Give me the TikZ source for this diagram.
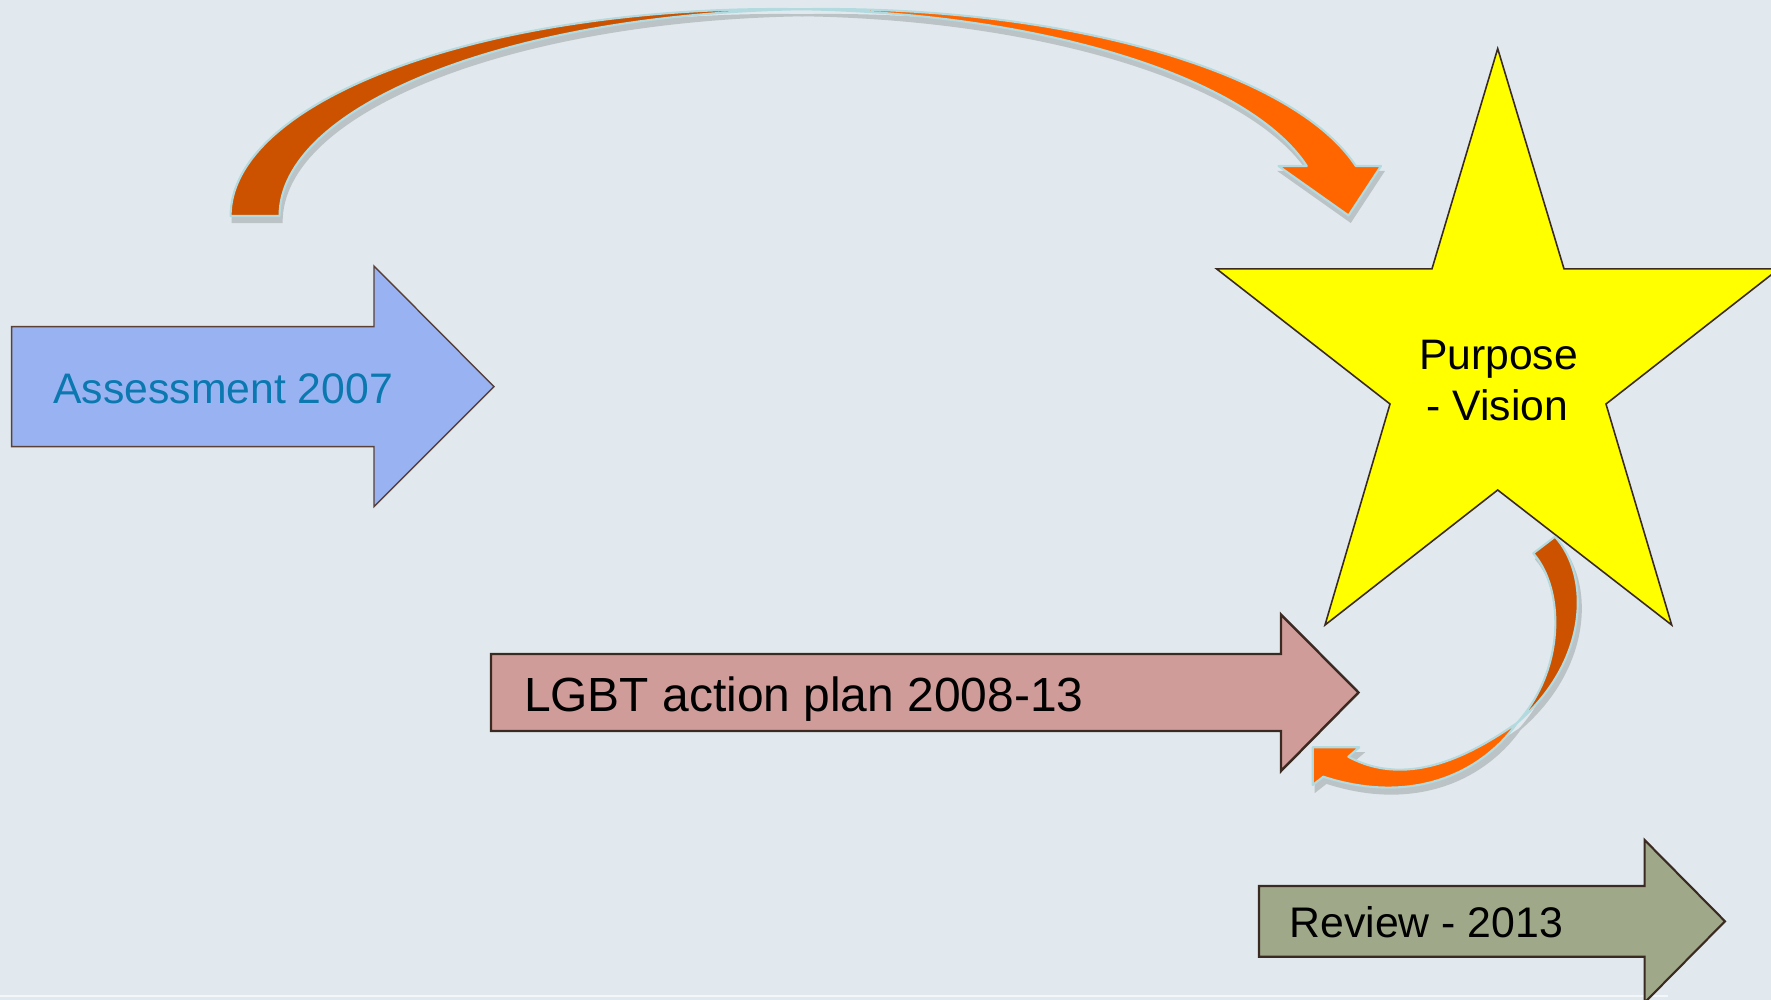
\documentclass[tikz,border=0pt]{standalone}
\usepackage{fontspec}
\setmainfont{Liberation Sans}
\definecolor{bg}{HTML}{E1E9EE}
\definecolor{darkor}{HTML}{CC5200}
\definecolor{brightor}{HTML}{FF6600}
\definecolor{glow}{HTML}{B2DADF}
\definecolor{shade}{HTML}{BCC3C7}
\definecolor{edgebrown}{HTML}{3B2A22}
\definecolor{assessfill}{HTML}{99B3F2}
\definecolor{assessedge}{HTML}{5A4035}
\definecolor{assesstext}{HTML}{0B78B0}
\definecolor{lgbtfill}{HTML}{D09C9A}
\definecolor{reviewfill}{HTML}{9FA888}
\definecolor{starfill}{HTML}{FFFF00}
\definecolor{rulecol}{HTML}{F3F7F9}
\tikzset{
  shapeedge/.style={draw=edgebrown, line join=miter},
  bandpart/.style={draw=glow, line width=0.6pt, line join=round},
  shadowpart/.style={fill=shade, draw=shade, line width=0.6pt},
  lbl/.style={inner sep=0pt, outer sep=0pt},
}
\newcommand\myArcDark{(230.6,216) arc[start angle=180,end angle=272.57,x radius=546.2,y radius=207]
   arc[start angle=267.43,end angle=180,x radius=546.2,y radius=207] -- cycle}
\newcommand\myArcBright{(801.3,9.2) arc[start angle=267.43,end angle=346.02,x radius=546.2,y radius=207]
   -- (1381,166) -- (1348.5,215.5) -- (1278.5,166) -- (1306.8,166)
   arc[start angle=346.02,end angle=272.57,x radius=546.2,y radius=207] -- cycle}
\newcommand\myLoopDark{(1533.3,553.3) -- (1555,536.7) .. controls (1590,575) and (1590,660) .. (1517,723)
   .. controls (1565,670) and (1565,590) .. (1533.3,553.3) -- cycle}
\newcommand\myLoopBright{(1517,723) .. controls (1475,752) and (1410,790) .. (1348.3,756.7)
   -- (1359.3,747.3) -- (1312.7,747.3) -- (1312.7,785) -- (1323.3,776.7)
   .. controls (1410,805) and (1480,775) .. (1517,723) -- cycle}
\begin{document}
\begin{tikzpicture}[x=0.01cm,y=-0.01cm]
\useasboundingbox (0,0) rectangle (1771,1000);
\clip (0,0) rectangle (1771,1000);
\fill[bg] (0,0) rectangle (1771,1000);

% Assessment arrow
\path[shapeedge, fill=assessfill, draw=assessedge, line width=0.4pt]
  (11.7,326.7) -- (374,326.7) -- (374,266) -- (494,386.7) -- (374,506.7) -- (374,446.7) -- (11.7,446.7) -- cycle;
\node[lbl, anchor=base west, text=assesstext, font=\fontsize{12.15}{14}\selectfont] (assess) at (53.3,403) {Assessment 2007};

% top curved arrow
\begin{scope}[shift={(2,6)}]
  \path[shadowpart] \myArcDark;
  \path[shadowpart] \myArcBright;
\end{scope}
\path[bandpart, fill=darkor] \myArcDark;
\path[bandpart, fill=brightor] \myArcBright;

% star
\path[shapeedge, fill=starfill, line width=0.45pt]
  (1497.7,48.6) -- (1564,268.8) -- (1778.9,268.8) -- (1606,404) -- (1671.7,625)
  -- (1497.7,490) -- (1325,625) -- (1390,404) -- (1216.5,268.8) -- (1432,268.8) -- cycle;
\node[lbl, anchor=base, font=\fontsize{12.13}{14}\selectfont] (purpose) at (1498.5,369.3) {Purpose};
\node[lbl, anchor=base, font=\fontsize{12.13}{14}\selectfont] (vision) at (1497.3,420) {- Vision};

% LGBT arrow
\path[shapeedge, fill=lgbtfill, line width=0.7pt]
  (491,654) -- (1281,654) -- (1281,614.5) -- (1358.5,692.5) -- (1281,771) -- (1281,731) -- (491,731) -- cycle;
\node[lbl, anchor=base west, font=\fontsize{13.63}{16}\selectfont] (lgbt) at (524,711.7) {LGBT action plan 2008-13};

% small curved arrow near star
\begin{scope}[shift={(3,6)}]
  \path[shadowpart] \myLoopDark;
  \path[shadowpart] \myLoopBright;
\end{scope}
\path[bandpart, fill=darkor] \myLoopDark;
\path[bandpart, fill=brightor] \myLoopBright;

% bottom rule
\draw[draw=rulecol, line width=0.6pt] (0,995.7) -- (1668,995.7);

% Review arrow
\path[shapeedge, fill=reviewfill, line width=0.6pt]
  (1259,886) -- (1644.6,886) -- (1644.6,840) -- (1725,921.3) -- (1644.6,1002.6) -- (1644.6,956.7) -- (1259,956.7) -- cycle;
\node[lbl, anchor=base west, font=\fontsize{12.17}{14}\selectfont] (review) at (1289.5,937.3) {Review - 2013};
\end{tikzpicture}
\end{document}
